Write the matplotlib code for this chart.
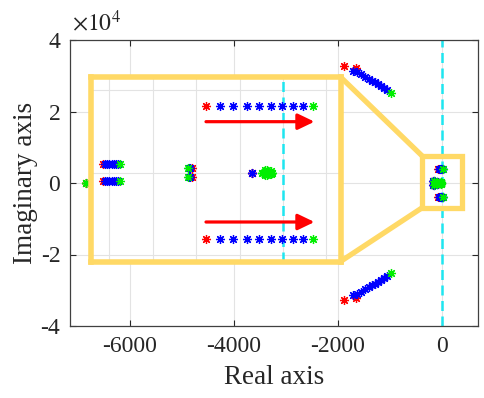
import matplotlib
matplotlib.use('Agg')
import matplotlib.pyplot as plt
from matplotlib.patches import Rectangle, ConnectionPatch
from matplotlib.ticker import FuncFormatter

plt.rcParams['font.family'] = ['Liberation Serif', 'DejaVu Serif']
plt.rcParams['mathtext.fontset'] = 'stix'
plt.rcParams['axes.unicode_minus'] = False

# poles in the upper half plane (conjugates are drawn too)
# red = first parameter value, blue = intermediate, green = last
red_re = [-1885, -1655, -71, -166, -84, -28.6, -6850]
red_im = [32700, 32150, 4050, 530, 300, 0, 0]

blue_re = [-1712, -1635, -1558, -1481, -1404, -1346, -1288, -1231, -1173, -1115, -1058,
           -58, -46, -33.5, -22, -11.3, -1.2, 8.9, 18.7,
           -164, -162, -160, -158, -156, -154, -152,
           -87, -86, -28.6]
blue_im = [31410, 30910, 30350, 29790, 29230, 28670, 28170, 27690, 27190, 26710, 26150,
           4050, 4050, 4050, 4050, 4050, 4050, 4050, 4050,
           530, 530, 530, 530, 530, 530, 530,
           300, 300, 0]

green_re = [-981, 27.4, -150, -88, -19, -17, -15, -13, -11, -10, -6850]
green_im = [25170, 4050, 530, 300, 0, 150, -150, 0, 100, 0, 0]

yellow = '#FFD966'
cyan = '#1EE6F0'


def draw_poles(a):
    for re, im, c in [(red_re, red_im, '#FF0000'),
                      (blue_re, blue_im, '#0000FF'),
                      (green_re, green_im, '#00EE00')]:
        a.plot(re + re, im + [-v for v in im], ls='none', marker=(8, 2, 0),
               ms=6.5, mew=0.9, color=c)


fig = plt.figure(figsize=(4.84, 3.98), dpi=100)
ax = fig.add_axes([70 / 484, 72 / 398, 408 / 484, 286 / 398])

draw_poles(ax)
ax.axvline(0, color=cyan, ls=(0, (4, 2.2)), lw=1.8, zorder=1)

ax.set_xlim(-7154, 692)
ax.set_ylim(-40000, 40000)
ax.set_xticks([-6000, -4000, -2000, 0])
ax.set_yticks([-40000, -20000, 0, 20000, 40000])
ax.yaxis.set_major_formatter(FuncFormatter(lambda v, p: f'{v / 1e4:g}'))
ax.text(0.005, 1.015, r'$\times10^{4}$', transform=ax.transAxes, fontsize=17,
        color='#262626', ha='left', va='bottom')
ax.grid(True, color='#e3e3e3', lw=0.8)
ax.set_axisbelow(True)
ax.tick_params(direction='in', length=4, width=0.8, labelsize=17,
               top=True, right=True, pad=7, colors='#262626')
for s in ax.spines.values():
    s.set_color('#404040')
    s.set_linewidth(0.9)
ax.set_xlabel('Real axis', fontsize=19.5, color='#262626', labelpad=6)
ax.set_ylabel('Imaginary axis', fontsize=19.5, color='#262626', labelpad=2)

# zoom box around the origin
ax.add_patch(Rectangle((-380, -6900), 770, 14450, fill=False, ec=yellow, lw=3.8, zorder=5))

# inset
axins = fig.add_axes([91 / 484, (398 - 261.5) / 398, 249.5 / 484, 184.5 / 398])
axins.set_zorder(6)
draw_poles(axins)
axins.axvline(0, color=cyan, ls=(0, (4, 2.2)), lw=1.8, zorder=1)
axins.set_xlim(-177, 53)
axins.set_ylim(-5394, 5788)
axins.set_xticks([-160, -120, -80, -40, 0, 40])
axins.set_yticks([-5000, 0, 5000])
axins.tick_params(length=0, labelbottom=False, labelleft=False)
axins.grid(True, color='#e3e3e3', lw=0.8)
axins.set_axisbelow(True)
for s in axins.spines.values():
    s.set_color(yellow)
    s.set_linewidth(4)

arrow = dict(arrowstyle='-|>,head_length=0.5,head_width=0.24', color='#FF0000',
             lw=2.3, mutation_scale=20, shrinkA=0, shrinkB=0)
axins.annotate('', xy=(29, 3080), xytext=(-71, 3080), arrowprops=arrow)
axins.annotate('', xy=(29, -3000), xytext=(-71, -3000), arrowprops=arrow)

for ya, yb in [(1, 7550), (0, -6900)]:
    con = ConnectionPatch(xyA=(1, ya), coordsA=axins.transAxes,
                          xyB=(-380, yb), coordsB=ax.transData,
                          color=yellow, lw=3.8, zorder=5)
    fig.add_artist(con)

fig.savefig('out.png', dpi=100)
